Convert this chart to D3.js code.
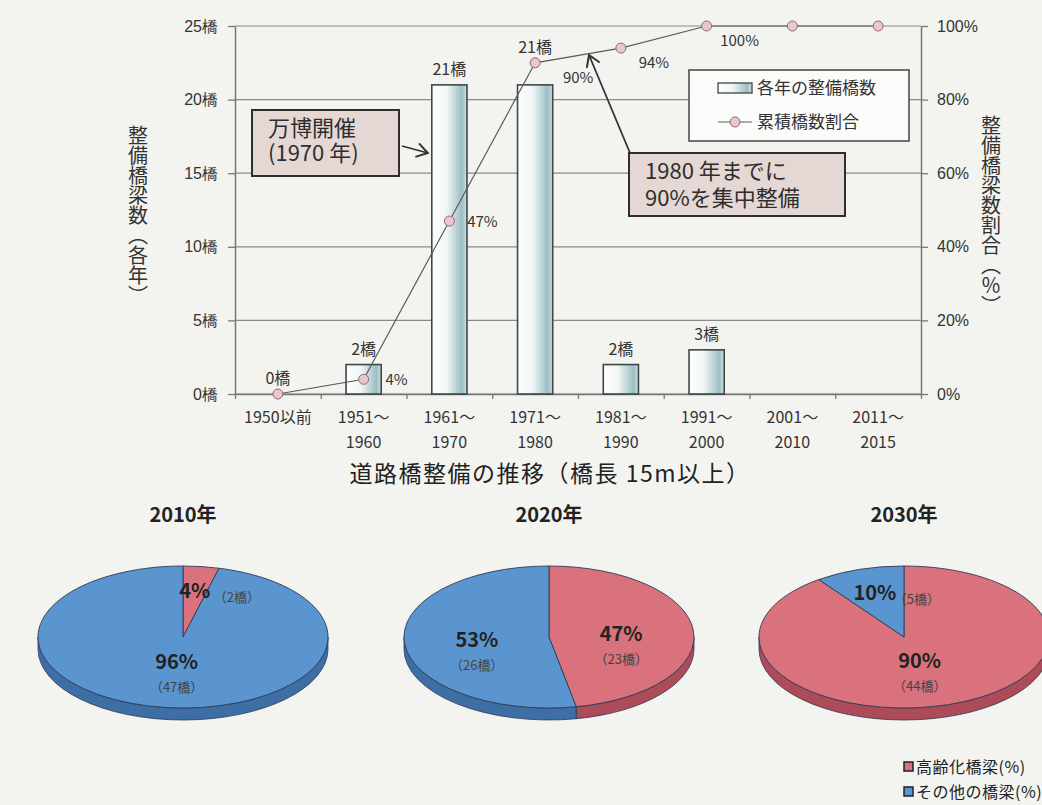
<!DOCTYPE html>
<html>
<head>
<meta charset="utf-8">
<script src="https://cdn.jsdelivr.net/npm/d3@7"></script>
<style>
body { margin: 0; background: #f3f3f0; }
svg { display: block; font-family: "Noto Sans CJK JP", "Noto Sans", sans-serif; }
</style>
</head>
<body>
<svg id="chart"></svg>
<script>
// 年代別の整備橋数と累積割合
const categories = [["1950以前"], ["1951～", "1960"], ["1961～", "1970"], ["1971～", "1980"],
    ["1981～", "1990"], ["1991～", "2000"], ["2001～", "2010"], ["2011～", "2015"]];
const bridgeCounts = [0, 2, 21, 21, 2, 3, 0, 0];
const countLabels = ["0橋", "2橋", "21橋", "21橋", "2橋", "3橋", "", ""];
const cumulativeRatio = [0, 4, 47, 90, 94, 100, 100, 100];
const ratioLabels = ["", "4%", "47%", "90%", "94%", "100%", "", ""];
const countTicks = [0, 5, 10, 15, 20, 25];
const ratioTicks = [0, 20, 40, 60, 80, 100];

// 高齢化橋梁の円グラフ
const pieYears = ["2010年", "2020年", "2030年"];
const agedPct = [4, 47, 90];
const otherPct = [96, 53, 10];
const agedCount = [2, 23, 44];
const otherCount = [47, 26, 5];

const width = 1042;
const height = 805;
const plot = { left: 235, right: 921, top: 26, bottom: 394 };
const ink = "#333";

const svg = d3.select("#chart")
    .attr("width", width)
    .attr("height", height);

const defs = svg.append("defs");
const grad = defs.append("linearGradient").attr("id", "barGrad")
    .attr("x1", 0).attr("x2", 1).attr("y1", 0).attr("y2", 0);
[["0%", "#ffffff"], ["42%", "#f1f6f6"], ["72%", "#b6d0d4"], ["86%", "#9dbec3"], ["100%", "#d2e3e4"]]
    .forEach(([o, c]) => grad.append("stop").attr("offset", o).attr("stop-color", c));

defs.append("marker")
    .attr("id", "chev")
    .attr("viewBox", "-12 -8 14 16")
    .attr("markerWidth", 14).attr("markerHeight", 16)
    .attr("markerUnits", "userSpaceOnUse")
    .attr("refX", 0).attr("refY", 0)
    .attr("orient", "auto")
    .append("path")
    .attr("d", "M-11,-7 L0,0 L-11,7")
    .attr("fill", "none").attr("stroke", "#333").attr("stroke-width", 2);

// スケール
const x = d3.scaleBand().domain(d3.range(categories.length)).range([plot.left, plot.right]);
const xEdge = d3.scaleLinear().domain([0, categories.length]).range([plot.left, plot.right]);
const y = d3.scaleLinear().domain([0, 25]).range([plot.bottom, plot.top]);
const yR = d3.scaleLinear().domain([0, 100]).range([plot.bottom, plot.top]);
const bw = x.bandwidth();
const barW = bw * 0.41;
const cx = i => x(i) + bw / 2;

// グリッド線
svg.append("g").selectAll("line")
    .data(countTicks)
    .enter().append("line")
    .attr("x1", plot.left).attr("x2", plot.right)
    .attr("y1", d => y(d)).attr("y2", d => y(d))
    .attr("stroke", "#8a8a8a").attr("stroke-width", 1.2);

// 左軸
const axL = svg.append("g")
    .attr("transform", `translate(${plot.left},0)`)
    .call(d3.axisLeft(y).tickValues(countTicks).tickSize(7).tickSizeOuter(0).tickPadding(10)
        .tickFormat(d => d + "橋"));
// 右軸
const axR = svg.append("g")
    .attr("transform", `translate(${plot.right},0)`)
    .call(d3.axisRight(yR).tickValues(ratioTicks).tickSize(7).tickSizeOuter(0).tickPadding(9)
        .tickFormat(d => d + "%"));
// 下軸（区切り目盛り）
const axB = svg.append("g")
    .attr("transform", `translate(0,${plot.bottom})`)
    .call(d3.axisBottom(xEdge).ticks(categories.length).tickSize(5).tickSizeOuter(0).tickFormat(""));

[axL, axR, axB].forEach(g => {
    g.select(".domain").attr("stroke", "#777").attr("stroke-width", 1.5);
    g.selectAll(".tick line").attr("stroke", "#777").attr("stroke-width", 1.3);
    g.selectAll(".tick text").attr("fill", ink).style("font-size", "16px");
});

// カテゴリラベル
const catG = svg.append("g").selectAll("text")
    .data(categories)
    .enter().append("text")
    .attr("x", (d, i) => cx(i))
    .attr("y", 423)
    .attr("text-anchor", "middle")
    .attr("fill", ink)
    .style("font-size", "16px");
catG.selectAll("tspan")
    .data(d => d)
    .enter().append("tspan")
    .attr("x", function () { return d3.select(this.parentNode).attr("x"); })
    .attr("dy", (d, j) => j === 0 ? 0 : 25)
    .text(d => d);

// 棒
svg.append("g").selectAll("rect")
    .data(bridgeCounts.map((v, i) => ({ v, i })).filter(d => d.v > 0))
    .enter().append("rect")
    .attr("x", d => cx(d.i) - barW / 2)
    .attr("y", d => y(d.v))
    .attr("width", barW)
    .attr("height", d => plot.bottom - y(d.v))
    .attr("fill", "url(#barGrad)")
    .attr("stroke", "#3a4848")
    .attr("stroke-width", 1.6);

// 棒ラベル（折れ線のマーカーと重なる場合は上へ）
svg.append("g").selectAll("text")
    .data(countLabels)
    .enter().append("text")
    .attr("x", (d, i) => cx(i))
    .attr("y", (d, i) => {
        const top = y(bridgeCounts[i]);
        const m = yR(cumulativeRatio[i]);
        const ref = (m < top && top - m < 30) ? m : top;
        return ref - 10;
    })
    .attr("text-anchor", "middle")
    .attr("fill", ink)
    .style("font-size", "16px")
    .text(d => d);

// 累積割合の折れ線
const line = d3.line().x((d, i) => cx(i)).y(d => yR(d));
svg.append("path")
    .datum(cumulativeRatio)
    .attr("d", line)
    .attr("fill", "none")
    .attr("stroke", "#5a5a5a")
    .attr("stroke-width", 1.2);
svg.append("g").selectAll("circle")
    .data(cumulativeRatio)
    .enter().append("circle")
    .attr("cx", (d, i) => cx(i))
    .attr("cy", d => yR(d))
    .attr("r", 5)
    .attr("fill", "#eac6cd")
    .attr("stroke", "#8d6a72")
    .attr("stroke-width", 1);
svg.append("g").selectAll("text")
    .data(ratioLabels)
    .enter().append("text")
    .attr("x", (d, i) => cx(i) + (i === 3 ? 43 : 33))
    .attr("y", (d, i) => yR(cumulativeRatio[i]) + (i >= 3 ? 20 : 6))
    .attr("text-anchor", "middle")
    .attr("fill", ink)
    .style("font-size", "15px")
    .text(d => d);

// 軸タイトル（縦書き）
svg.append("text")
    .attr("x", 138).attr("y", 125)
    .style("writing-mode", "vertical-rl")
    .style("font-size", "20px")
    .attr("fill", ink)
    .text("整備橋梁数（各年）");
svg.append("text")
    .attr("x", 991).attr("y", 115)
    .style("writing-mode", "vertical-rl")
    .style("font-size", "20px")
    .attr("fill", ink)
    .text("整備橋梁数割合（％）");

// 凡例
const legend = svg.append("g").attr("transform", "translate(689,70)");
legend.append("rect")
    .attr("width", 220).attr("height", 71)
    .attr("fill", "#fbfbfa").attr("stroke", "#444").attr("stroke-width", 1.5);
legend.append("rect")
    .attr("x", 29).attr("y", 13).attr("width", 34).attr("height", 10)
    .attr("fill", "url(#barGrad)").attr("stroke", "#3a4848").attr("stroke-width", 1.3);
legend.append("text")
    .attr("x", 68).attr("y", 24).attr("fill", ink).style("font-size", "17px")
    .text("各年の整備橋数");
legend.append("line")
    .attr("x1", 29).attr("x2", 63).attr("y1", 52).attr("y2", 52)
    .attr("stroke", "#5a5a5a").attr("stroke-width", 1.2);
legend.append("circle")
    .attr("cx", 46).attr("cy", 52).attr("r", 5)
    .attr("fill", "#eac6cd").attr("stroke", "#8d6a72");
legend.append("text")
    .attr("x", 68).attr("y", 58).attr("fill", ink).style("font-size", "17px")
    .text("累積橋数割合");

// 注記
function note(bx, by, w, h, lines, gap) {
    const g = svg.append("g");
    g.append("rect")
        .attr("x", bx).attr("y", by).attr("width", w).attr("height", h)
        .attr("fill", "#e5d7d3").attr("stroke", "#2e2e2e").attr("stroke-width", 2);
    g.append("text")
        .attr("x", bx + 16).attr("y", by + 26)
        .attr("fill", "#2e2e2e")
        .style("font-size", "22px")
        .selectAll("tspan")
        .data(lines)
        .enter().append("tspan")
        .attr("x", bx + 16)
        .attr("dy", (d, k) => k === 0 ? 0 : gap)
        .text(d => d);
}
note(252, 110, 147, 66, ["万博開催", "(1970 年)"], 25);
note(629, 153, 216, 63, ["1980 年までに", "90%を集中整備"], 27);

svg.append("line")
    .attr("x1", 402).attr("y1", 146).attr("x2", cx(2) - barW / 2 - 4).attr("y2", 153)
    .attr("stroke", "#333").attr("stroke-width", 1.8)
    .attr("marker-end", "url(#chev)");
svg.append("line")
    .attr("x1", 630).attr("y1", 153).attr("x2", 589).attr("y2", 55)
    .attr("stroke", "#333").attr("stroke-width", 1.8)
    .attr("marker-end", "url(#chev)");

// キャプション
svg.append("text")
    .attr("x", 550).attr("y", 482)
    .attr("text-anchor", "middle")
    .attr("fill", "#222")
    .style("font-size", "23px")
    .style("letter-spacing", "1.5px")
    .text("道路橋整備の推移（橋長 15m以上）");

// 円グラフ（擬似3D）
const rx = 145, ry = 71, depth = 12, pieCy = 637;
const pieX = d3.scaleOrdinal().domain(pieYears).range([183, 549, 904]);
const colors = {
    aged: { top: "#d9727d", side: "#ad4b59" },
    other: { top: "#5b95cf", side: "#3d6fa5" }
};
const pie = d3.pie().sort(null).value(d => d.pct);

pieYears.forEach((yr, n) => {
    const pcx = pieX(yr);
    const pt = (a, dy = 0) => [pcx + rx * Math.sin(a), pieCy - ry * Math.cos(a) + dy];
    const arcs = pie([
        { key: "aged", pct: agedPct[n], count: agedCount[n] },
        { key: "other", pct: otherPct[n], count: otherCount[n] }
    ]);
    const g = svg.append("g");

    g.append("text")
        .attr("x", pcx).attr("y", 522)
        .attr("text-anchor", "middle")
        .attr("fill", "#222")
        .style("font-size", "20px").style("font-weight", "bold")
        .text(yr);

    // 側面
    arcs.forEach(a => {
        const s = Math.max(a.startAngle, Math.PI / 2);
        const e = Math.min(a.endAngle, Math.PI * 1.5);
        if (s >= e) return;
        const [x0, y0] = pt(s), [x1, y1] = pt(e);
        g.append("path")
            .attr("d", `M${x0},${y0} A${rx},${ry} 0 0 1 ${x1},${y1} L${x1},${y1 + depth} A${rx},${ry} 0 0 0 ${x0},${y0 + depth} Z`)
            .attr("fill", colors[a.data.key].side)
            .attr("stroke", "#2f3b55").attr("stroke-width", 0.8);
    });
    // 上面
    arcs.forEach(a => {
        const [x0, y0] = pt(a.startAngle), [x1, y1] = pt(a.endAngle);
        const large = a.endAngle - a.startAngle > Math.PI ? 1 : 0;
        g.append("path")
            .attr("d", `M${pcx},${pieCy} L${x0},${y0} A${rx},${ry} 0 ${large} 1 ${x1},${y1} Z`)
            .attr("fill", colors[a.data.key].top)
            .attr("stroke", "#2f3b55").attr("stroke-width", 0.9);
    });
    // ラベル
    arcs.forEach(a => {
        const mid = (a.startAngle + a.endAngle) / 2;
        const small = a.data.pct < 15;
        const k = small ? 0.65 : (a.data.pct > 70 ? 0.35 : 0.5);
        const [lx, ly] = pt(mid);
        const tx = pcx + (lx - pcx) * k;
        const ty = pieCy + (ly - pieCy) * k;
        g.append("text")
            .attr("x", tx).attr("y", ty + 7)
            .attr("text-anchor", "middle")
            .attr("fill", "#222")
            .style("font-size", "20px").style("font-weight", "bold")
            .text(a.data.pct + "%");
        g.append("text")
            .attr("x", small ? tx + 42 : tx)
            .attr("y", small ? ty + 11 : ty + 30)
            .attr("text-anchor", "middle")
            .attr("fill", "#444")
            .style("font-size", "13px")
            .text(`（${a.data.count}橋）`);
    });
});

// 円グラフ凡例
const pieLegend = svg.append("g").attr("transform", "translate(904,761)");
[["高齢化橋梁(%)", colors.aged.top], ["その他の橋梁(%)", colors.other.top]].forEach(([t, c], k) => {
    pieLegend.append("rect")
        .attr("x", 0).attr("y", k * 25 + 1).attr("width", 9).attr("height", 9)
        .attr("fill", c).attr("stroke", "#222").attr("stroke-width", 1.5);
    pieLegend.append("text")
        .attr("x", 12).attr("y", k * 25 + 12)
        .attr("fill", "#222")
        .style("font-size", "16px")
        .style("letter-spacing", "0.5px")
        .text(t);
});
</script>
</body>
</html>
